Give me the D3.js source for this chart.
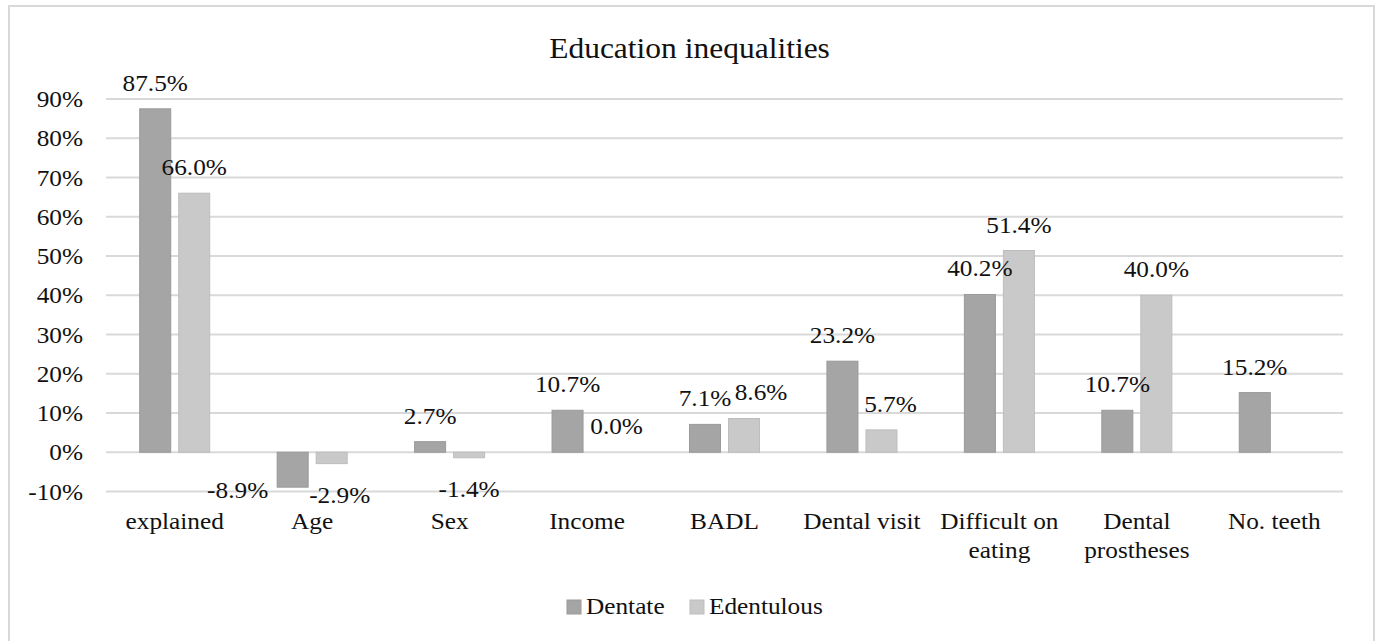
<!DOCTYPE html>
<html>
<head>
<meta charset="utf-8">
<script src="https://cdn.jsdelivr.net/npm/d3@7"></script>
<style>
  html, body { margin: 0; padding: 0; background: #fff; }
  svg { display: block; }
</style>
</head>
<body>
<svg id="chart" width="1379" height="641"></svg>
<script>
// ---- data ----
const title = "Education inequalities";
const categories = ["explained", "Age", "Sex", "Income", "BADL", "Dental visit", "Difficult on eating", "Dental prostheses", "No. teeth"];
const categoryLines = [["explained"], ["Age"], ["Sex"], ["Income"], ["BADL"], ["Dental visit"], ["Difficult on", "eating"], ["Dental", "prostheses"], ["No. teeth"]];
const seriesNames = ["Dentate", "Edentulous"];
const dentate = [87.5, -8.9, 2.7, 10.7, 7.1, 23.2, 40.2, 10.7, 15.2];
const edentulous = [66.0, -2.9, -1.4, 0.0, 8.6, 5.7, 51.4, 40.0, null];
const yTicks = [-10, 0, 10, 20, 30, 40, 50, 60, 70, 80, 90];

// label nudges (manual placements in the original)
const labelNudge = {
  "Dentate|Age": [-55, -28],
  "Edentulous|Age": [8, 0],
  "Edentulous|Income": [10, 0],
  "Edentulous|BADL": [17, 0],
  "Edentulous|Dental visit": [9, 0]
};

// ---- layout ----
const W = 1379, H = 641;
const plotLeft = 106, plotRight = 1343;
const yTop = 99, yBottom = 491.5;
const colors = { "Dentate": "#a5a5a5", "Edentulous": "#c9c9c9" };
const strokeColors = { "Dentate": "#9a9a9a", "Edentulous": "#bdbdbd" };
const FONT = "'Liberation Serif', 'Times New Roman', Times, serif";
const SX = 1.1;
const FS = 23;

const svg = d3.select("#chart");

function addText(g, x, y, str, opts = {}) {
  return g.append("text")
    .attr("transform", `translate(${x},${y}) scale(${opts.sx || SX},1)`)
    .attr("text-anchor", opts.anchor || "middle")
    .attr("font-family", FONT)
    .attr("font-size", opts.size || FS)
    .attr("fill", "#111")
    .text(str);
}

// border
svg.append("rect")
  .attr("x", 9).attr("y", 6)
  .attr("width", 1365).attr("height", 650)
  .attr("fill", "none").attr("stroke", "#d9d9d9").attr("stroke-width", 2);

// title
addText(svg, W / 2, 58, title, { size: 30, sx: 1.05 });

const x0 = d3.scaleBand().domain(categories).range([plotLeft, plotRight]).paddingInner(0).paddingOuter(0);
const x1 = d3.scaleBand().domain(seriesNames).range([0, x0.bandwidth()]).paddingInner(0.205).paddingOuter(0.864);
const y = d3.scaleLinear().domain([-10, 90]).range([yBottom, yTop]);

// gridlines
svg.append("g").selectAll("line").data(yTicks).join("line")
  .attr("x1", plotLeft).attr("x2", plotRight)
  .attr("y1", d => y(d)).attr("y2", d => y(d))
  .attr("stroke", "#d9d9d9").attr("stroke-width", 2);

// y tick labels
const yg = svg.append("g");
yTicks.forEach(d => addText(yg, 83, y(d) + 8, d + "%", { anchor: "end" }));

// bars
const seriesData = { "Dentate": dentate, "Edentulous": edentulous };
const barG = svg.append("g");
const labelG = svg.append("g");
seriesNames.forEach(s => {
  const vals = seriesData[s];
  const pts = categories.map((c, i) => ({ c, v: vals[i], s })).filter(d => d.v !== null);
  barG.selectAll(null).data(pts).join("rect")
    .attr("x", d => x0(d.c) + x1(s))
    .attr("width", x1.bandwidth())
    .attr("y", d => Math.min(y(d.v), y(0)))
    .attr("height", d => Math.abs(y(d.v) - y(0)))
    .attr("fill", colors[s])
    .attr("stroke", strokeColors[s]).attr("stroke-width", 1);
  pts.forEach(d => {
    const cx = x0(d.c) + x1(s) + x1.bandwidth() / 2;
    const by = d.v >= 0 ? y(d.v) - 18 : y(d.v) + 39;
    const n = labelNudge[s + "|" + d.c] || [0, 0];
    addText(labelG, cx + n[0], by + n[1], d.v.toFixed(1) + "%");
  });
});

// category labels
const xg = svg.append("g");
categories.forEach((c, i) => {
  const cx = x0(c) + x0.bandwidth() / 2;
  categoryLines[i].forEach((line, j) => addText(xg, cx, 529 + j * 29, line));
});

// legend
const lg = svg.append("g");
const legendItems = [{ s: "Dentate", x: 567 }, { s: "Edentulous", x: 690 }];
legendItems.forEach(it => {
  lg.append("rect").attr("x", it.x).attr("y", 600).attr("width", 14).attr("height", 14)
    .attr("fill", colors[it.s]).attr("stroke", strokeColors[it.s]).attr("stroke-width", 1);
  addText(lg, it.x + 19, 614, it.s, { anchor: "start" });
});
</script>
</body>
</html>
